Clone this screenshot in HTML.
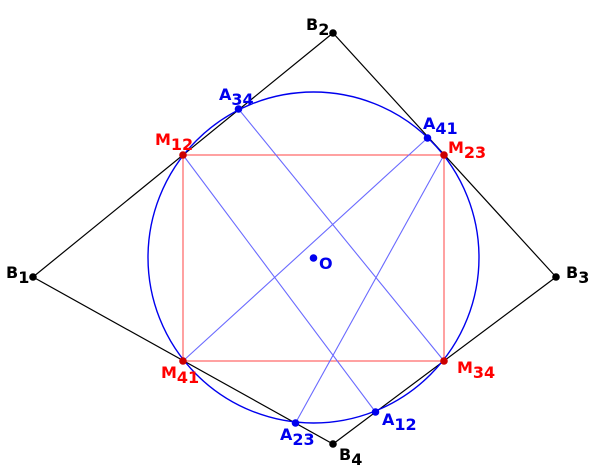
<!DOCTYPE html>
<html><head><meta charset="utf-8"><style>html,body{margin:0;padding:0;background:#fff}svg{display:block}text{font-family:"DejaVu Sans","Liberation Sans",sans-serif;font-weight:bold;font-size:16px}</style></head>
<body>
<svg width="600" height="467" viewBox="0 0 600 467" xmlns="http://www.w3.org/2000/svg">
<polygon points="33,277 333,33 556,277 333,444" fill="none" stroke="#000" stroke-width="1.2"/>
<ellipse cx="313.5" cy="257.5" rx="165.5" ry="165.5" fill="none" stroke="#0000ee" stroke-width="1.4"/>
<rect x="183" y="155" width="261" height="206" fill="none" stroke="#ff5555" stroke-width="1.1"/>
<g stroke="#6a6aff" stroke-width="1.1">
<line x1="238.5" y1="109" x2="444" y2="361"/>
<line x1="183" y1="155" x2="375.5" y2="412"/>
<line x1="427.5" y1="138" x2="183" y2="361"/>
<line x1="444" y1="155" x2="295.5" y2="423"/>
</g>
<g fill="#000"><circle cx="33" cy="277" r="3.8"/><circle cx="333" cy="33" r="3.8"/><circle cx="556" cy="277" r="3.8"/><circle cx="333" cy="444" r="3.8"/></g>
<g fill="#cc0000"><circle cx="183" cy="155" r="3.8"/><circle cx="444" cy="155" r="3.8"/><circle cx="444" cy="361" r="3.8"/><circle cx="183" cy="361" r="3.8"/></g>
<g fill="#0000ee"><circle cx="238.5" cy="109" r="3.8"/><circle cx="427.5" cy="138" r="3.8"/><circle cx="375.5" cy="412" r="3.8"/><circle cx="295.5" cy="423" r="3.8"/><circle cx="313.5" cy="258" r="3.8"/></g>
<g fill="#000">
<text x="6" y="278">B<tspan dy="5">1</tspan></text>
<text x="306" y="30">B<tspan dy="5">2</tspan></text>
<text x="566" y="278">B<tspan dy="5">3</tspan></text>
<text x="339" y="460">B<tspan dy="5">4</tspan></text>
</g>
<g fill="#ff0000">
<text x="155" y="145">M<tspan dy="5">12</tspan></text>
<text x="448" y="153">M<tspan dy="5">23</tspan></text>
<text x="457" y="373">M<tspan dy="5">34</tspan></text>
<text x="161" y="378">M<tspan dy="5">41</tspan></text>
</g>
<g fill="#0000ee">
<text x="219" y="100">A<tspan dy="5">34</tspan></text>
<text x="423" y="129">A<tspan dy="5">41</tspan></text>
<text x="382" y="425">A<tspan dy="5">12</tspan></text>
<text x="280" y="440">A<tspan dy="5">23</tspan></text>
<text x="319" y="269">O</text>
</g>
</svg>
</body></html>
